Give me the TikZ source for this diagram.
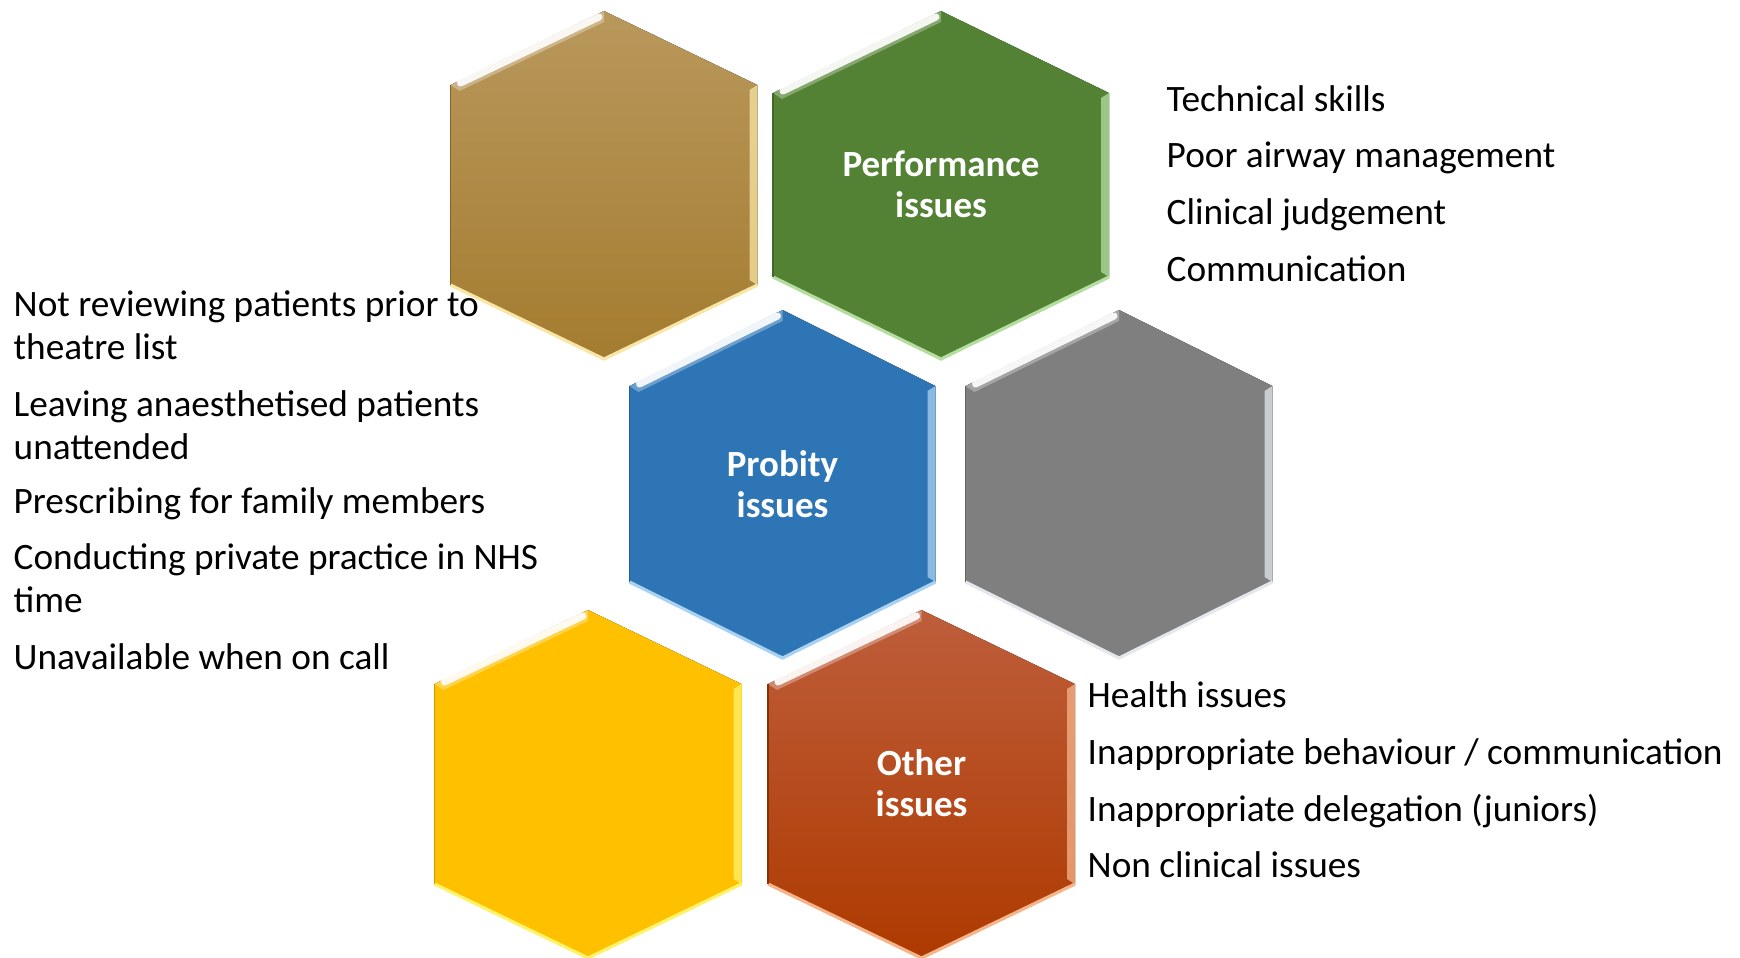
\documentclass[tikz,border=0pt]{standalone}
\usepackage{fontspec}
\setmainfont{Carlito}
\usepackage{tikz}
\usetikzlibrary{positioning}

\definecolor{TanTop}{HTML}{B9985C}
\definecolor{TanBottom}{HTML}{A47C30}
\definecolor{TanRim}{HTML}{F8E6A6}
\definecolor{LeafGreen}{HTML}{548235}
\definecolor{LeafRim}{HTML}{B5DDA0}
\definecolor{SteelBlue}{HTML}{2E75B6}
\definecolor{SteelRim}{HTML}{A9D2F2}
\definecolor{MidGray}{HTML}{7F7F7F}
\definecolor{GrayRim}{HTML}{E4E8EC}
\definecolor{Amber}{HTML}{FFC000}
\definecolor{AmberRim}{HTML}{FFF36A}
\definecolor{RustTop}{HTML}{BE5E3C}
\definecolor{RustBottom}{HTML}{AE3A00}
\definecolor{RustRim}{HTML}{F6B48A}

\tikzset{
  every node/.style={
    font=\fontsize{10.6pt}{11.95pt}\selectfont
  },
  item/.style={
    anchor=base west,
    align=left,
    inner sep=0pt,
    text=black
  },
  hexlabel/.style={
    align=center,
    inner sep=0pt,
    text=white,
    font=\fontsize{10.5pt}{11.7pt}\selectfont\bfseries
  }
}

% centre x, centre y, half width, side offset, top colour, bottom colour, rim colour
\newcommand{\hexcell}[7]{%
  \fill[top color=#5, bottom color=#6]
    (#1,#2-174) -- (#1+#3,#2-#4) -- (#1+#3,#2+#4) -- (#1,#2+174)
    -- (#1-#3,#2+#4) -- (#1-#3,#2-#4) -- cycle;
  % bevel
  \fill[white, opacity=0.3]
    (#1-#3,#2-#4) -- (#1,#2-174) -- (#1,#2-163) -- (#1-#3+9,#2-#4+6) -- cycle;
  \draw[white, opacity=0.9, line width=2pt, line cap=round]
    (#1-#3+10,#2-#4-2) -- (#1-5,#2-168);
  \fill[#7, opacity=0.75]
    (#1+#3,#2-#4) -- (#1+#3,#2+#4) -- (#1+#3-8,#2+#4-5) -- (#1+#3-8,#2-#4+5) -- cycle;
  \draw[#7, line width=0.9pt]
    (#1-#3,#2+#4) -- (#1,#2+174) -- (#1+#3,#2+#4);
  \draw[#6!80!black, line width=0.3pt]
    (#1-#3,#2+#4) -- (#1-#3,#2-#4);
}

\begin{document}
\begin{tikzpicture}[x=0.01cm,y=-0.01cm]

\useasboundingbox (0,0) rectangle (1740,957);

% honeycomb
\hexcell{604}{185}{153.5}{100}{TanTop}{TanBottom}{TanRim}
\hexcell{941}{185}{168}{92}{LeafGreen}{LeafGreen}{LeafRim}
\hexcell{782.5}{484}{153}{98}{SteelBlue}{SteelBlue}{SteelRim}
\hexcell{1119}{484}{153.5}{98}{MidGray}{MidGray}{GrayRim}
\hexcell{588}{784}{153.5}{100}{Amber}{Amber}{AmberRim}
\hexcell{921.5}{784}{153.5}{100}{RustTop}{RustBottom}{RustRim}

\node [hexlabel] (perf) at (941,184) {Performance\\issues};
\node [hexlabel] (probity) at (782.5,484) {Probity\\issues};
\node [hexlabel] (other) at (921.5,783) {Other\\issues};

% performance issues
\node [item] (perf1) at (1166,111) {Technical skills};
\node [item] (perf2) at (1166,167) {Poor airway management};
\node [item] (perf3) at (1166,224) {Clinical judgement};
\node [item] (perf4) at (1166,281) {Communication};

% probity issues (two-line items sit on their last line)
\node [item] (prob1) at (13,359) {Not reviewing patients prior to\\theatre list};
\node [item] (prob2) at (13,459) {Leaving anaesthetised patients\\unattended};
\node [item] (prob3) at (13,513) {Prescribing for family members};
\node [item] (prob4) at (13,612) {Conducting private practice in NHS\\time};
\node [item] (prob5) at (13,669) {Unavailable when on call};

% other issues
\node [item] (other1) at (1087,707) {Health issues};
\node [item] (other2) at (1087,764) {Inappropriate behaviour / communication};
\node [item] (other3) at (1087,821) {Inappropriate delegation (juniors)};
\node [item] (other4) at (1087,877) {Non clinical issues};

\end{tikzpicture}
\end{document}
